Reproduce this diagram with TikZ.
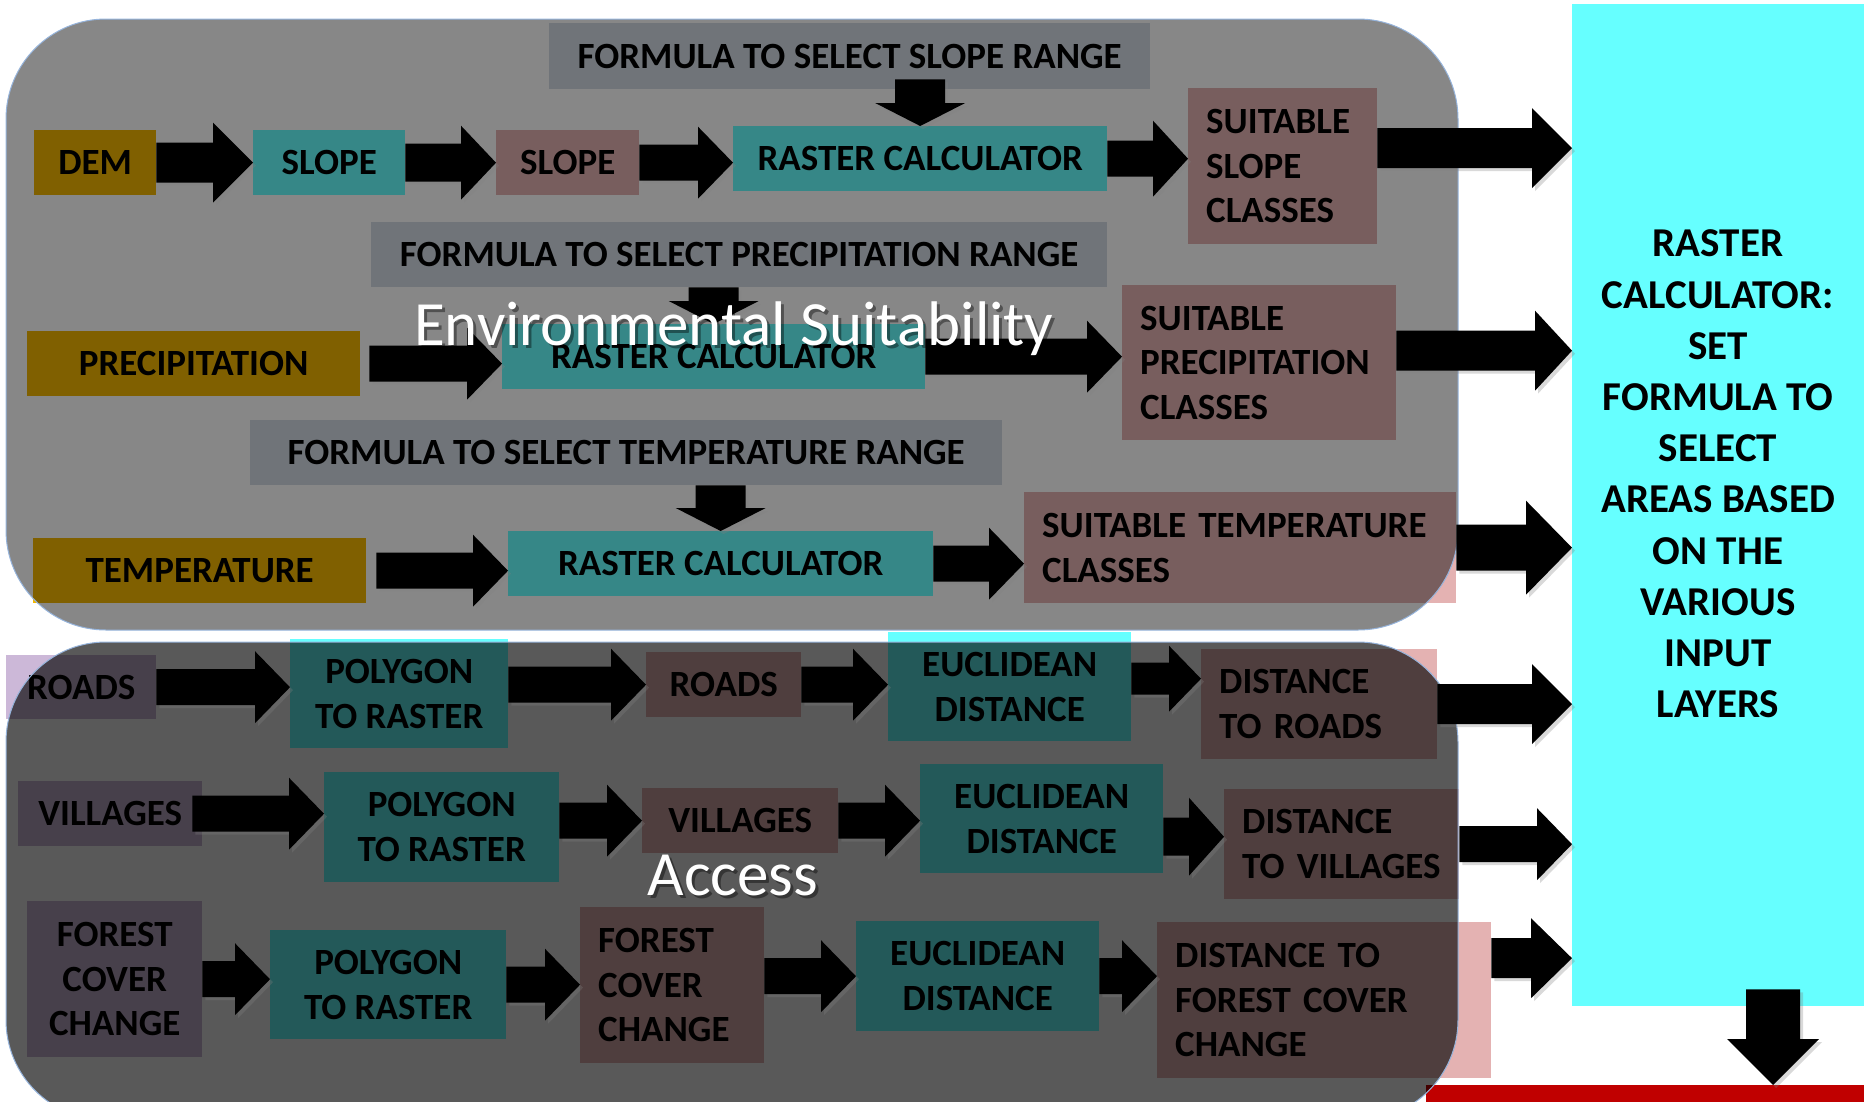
\documentclass[tikz,border=0pt]{standalone}
\usepackage{fontspec}
\setmainfont{Carlito}
\usetikzlibrary{calc,shadows}
\definecolor{LayerGold}{RGB}{242,182,0}
\definecolor{ToolCyan}{RGB}{102,255,255}
\definecolor{ResultRose}{RGB}{228,178,178}
\definecolor{FormulaSlate}{RGB}{212,220,230}
\definecolor{VectorLilac}{RGB}{204,184,216}
\definecolor{BarRed}{RGB}{192,0,0}
\definecolor{PanelEdge}{RGB}{150,180,220}
\newcommand{\boxfont}{\fontsize{37}{44.6}\selectfont\bfseries}
\newcommand{\bigfont}{\fontsize{41}{51.2}\selectfont\bfseries}
\newcommand{\titlefont}{\fontsize{63}{66}\selectfont}

\begin{document}
\begin{tikzpicture}[x=1pt,y=-1pt]
\tikzstyle{box} = [rectangle, anchor=north west, inner sep=0pt, align=center, font=\boxfont]
\tikzstyle{lbox} = [box, align=left, inner xsep=18pt]
\tikzstyle{layer} = [fill=LayerGold]
\tikzstyle{tool} = [fill=ToolCyan]
\tikzstyle{result} = [fill=ResultRose]
\tikzstyle{formula} = [fill=FormulaSlate]
\tikzstyle{vector} = [fill=VectorLilac]
\tikzstyle{panel} = [rounded corners=100pt, fill=black, draw=PanelEdge, line width=1pt]
\tikzstyle{title} = [anchor=base, text=white, font=\titlefont]
\tikzset{
  wh/.style 2 args={minimum width=#1pt, minimum height=#2pt},
  ashaft/.store in=\ashaft, ahead/.store in=\ahead, atip/.store in=\atip,
  ashaft=18, ahead=36, atip=35,
  shadowed/.style={drop shadow={shadow xshift=3pt, shadow yshift=-3pt, opacity=0.3}},
  rarrow/.style={fill=black, shadowed, to path={let \p1=(\tikztostart), \p2=(\tikztotarget) in
    (\x1,\y1+\ashaft pt) -- (\x2-\atip pt,\y1+\ashaft pt) -- (\x2-\atip pt,\y1+\ahead pt)
    -- (\x2,\y1) -- (\x2-\atip pt,\y1-\ahead pt) -- (\x2-\atip pt,\y1-\ashaft pt)
    -- (\x1,\y1-\ashaft pt) -- cycle}},
  darrow/.style={fill=black, shadowed, ashaft=25, ahead=45, atip=23,
    to path={let \p1=(\tikztostart), \p2=(\tikztotarget) in
    (\x1-\ashaft pt,\y1) -- (\x1-\ashaft pt,\y2+\atip pt) -- (\x1-\ahead pt,\y2+\atip pt)
    -- (\x1,\y2) -- (\x1+\ahead pt,\y2+\atip pt) -- (\x1+\ashaft pt,\y2+\atip pt)
    -- (\x1+\ashaft pt,\y1) -- cycle}},
  bigarrow/.style={rarrow, ashaft=20, ahead=40, atip=40}
}
\useasboundingbox (0,0) rectangle (1864,1101);
\clip (0,0) rectangle (1864,1101);

% raster calculator that takes all the layers
\node [box, tool, wh={292}{1002}] (cyan) at (1572,4) {};
\node [align=center, font=\bigfont] (cyantext) at (1718,474)
  {RASTER\\CALCULATOR:\\SET\\FORMULA TO\\SELECT\\AREAS BASED\\ON THE\\VARIOUS\\INPUT\\LAYERS};
\node [box, fill=BarRed, wh={438}{20}] (bar) at (1426,1085) {};

% environmental layers
\node [box, formula, wh={601}{66}] (formA) at (549,23) {FORMULA TO SELECT SLOPE RANGE};
\node [box, layer, wh={122}{65}] (dem) at (34,130) {DEM};
\node [box, tool, wh={152}{65}] (slopeA) at (253,130) {SLOPE};
\node [box, result, wh={143}{65}] (slopeB) at (496,130) {SLOPE};
\node [box, tool, wh={374}{65}] (calcA) at (733,126) {RASTER CALCULATOR};
\node [lbox, result, text width=153pt, minimum height=156pt] (suitslope) at (1188,88) {SUITABLE\\SLOPE\\CLASSES};
%
\node [box, formula, wh={736}{65}] (formB) at (371,222) {FORMULA TO SELECT PRECIPITATION RANGE};
\node [box, layer, wh={333}{65}] (precip) at (27,331) {PRECIPITATION};
\node [box, tool, wh={423}{65}] (calcB) at (502,324) {RASTER CALCULATOR};
\node [lbox, result, text width=238pt, minimum height=155pt] (suitprec) at (1122,285) {SUITABLE\\PRECIPITATION\\CLASSES};
%
\node [box, formula, wh={752}{65}] (formC) at (250,420) {FORMULA TO SELECT TEMPERATURE RANGE};
\node [box, layer, wh={333}{65}] (temp) at (33,538) {TEMPERATURE};
\node [box, tool, wh={425}{65}] (calcC) at (508,531) {RASTER CALCULATOR};
\node [lbox, result, text width=396pt, minimum height=111pt] (suittemp) at (1024,492) {SUITABLE~TEMPERATURE\\CLASSES};

% access layers
\node [box, vector, wh={150}{64}] (roadsA) at (6,655) {ROADS};
\node [box, tool, wh={218}{109}] (polyA) at (290,639) {POLYGON\\TO RASTER};
\node [box, result, wh={155}{65}] (roadsB) at (646,652) {ROADS};
\node [box, tool, wh={243}{109}] (eucA) at (888,632) {EUCLIDEAN\\DISTANCE};
\node [lbox, result, text width=200pt, minimum height=110pt] (distroads) at (1201,649) {DISTANCE\\TO~ROADS};
%
\node [box, vector, wh={184}{65}] (villA) at (18,781) {VILLAGES};
\node [box, tool, wh={235}{110}] (polyB) at (324,772) {POLYGON\\TO RASTER};
\node [box, result, wh={196}{65}] (villB) at (642,788) {VILLAGES};
\node [box, tool, wh={243}{109}] (eucB) at (920,764) {EUCLIDEAN\\DISTANCE};
\node [lbox, result, text width=199pt, minimum height=110pt] (distvill) at (1224,789) {DISTANCE\\TO~VILLAGES};
%
\node [box, vector, wh={175}{156}] (forestA) at (27,901) {FOREST\\COVER\\CHANGE};
\node [box, tool, wh={236}{109}] (polyC) at (270,930) {POLYGON\\TO RASTER};
\node [lbox, result, text width=148pt, minimum height=156pt] (forestB) at (580,907) {FOREST\\COVER\\CHANGE};
\node [box, tool, wh={243}{110}] (eucC) at (856,921) {EUCLIDEAN\\DISTANCE};
\node [lbox, result, text width=298pt, minimum height=156pt] (distforest) at (1157,922) {DISTANCE~TO\\FOREST~COVER\\CHANGE};

% grey panels over the two groups
\path [panel, fill opacity=0.47] (6,19) rectangle (1458,630);
\path [panel, fill opacity=0.65] (6,642) rectangle (1458,1120);

% arrows
\path [bigarrow] (dem.east) to (slopeA.west);
\path [rarrow, ashaft=19, ahead=37] (slopeA.east) to (slopeB.west);
\path [rarrow] (slopeB.east) to (calcA.west);
\path [rarrow, ahead=38] (calcA.east) to (suitslope.west);
\path [bigarrow] ([yshift=18pt]suitslope.east) to (cyan.west);
\path [darrow] ([yshift=10pt]formA.south -| calcA.north) to (calcA.north);
%
\path [rarrow] ([xshift=9pt]precip.east) to (calcB.west);
\path [rarrow] (calcB.east) to (suitprec.west);
\path [bigarrow, atip=37] ([yshift=12pt]suitprec.east) to (cyan.west);
\path [darrow] (formB.south -| calcB.north) to (calcB.north);
%
\path [rarrow] ([xshift=10pt]temp.east) to (calcC.west);
\path [rarrow] (calcC.east) to (suittemp.west);
\path [rarrow, ashaft=23, ahead=47, atip=46] (suittemp.east) to (cyan.west);
\path [darrow] (formC.south -| calcC.north) to (calcC.north);
%
\path [rarrow] (roadsA.east) to (polyA.west);
\path [rarrow] (polyA.east |- roadsB.west) to (roadsB.west);
\path [rarrow] (roadsB.east) to (eucA.west);
\path [rarrow, ashaft=16, ahead=33, atip=32] ([yshift=8pt]eucA.east) to (distroads.west);
\path [bigarrow] (distroads.east) to (cyan.west);
%
\path [rarrow] ([xshift=-10pt]villA.east) to (polyB.west);
\path [rarrow] (polyB.east |- villB.west) to (villB.west);
\path [rarrow] (villB.east) to (eucB.west);
\path [rarrow, ashaft=19, ahead=39] ([yshift=-18pt]eucB.east) to (distvill.west);
\path [rarrow] (distvill.east) to (cyan.west);
%
\path [rarrow] (forestA.east) to (polyC.west);
\path [rarrow] (polyC.east) to (forestB.west);
\path [rarrow] (forestB.east |- eucC.west) to (eucC.west);
\path [rarrow] (eucC.east) to (distforest.west);
\path [bigarrow, atip=41] ([yshift=42pt]distforest.east) to (cyan.west);
%
\path [darrow, ashaft=27, ahead=46, atip=46] ([xshift=55pt,yshift=17pt]cyan.south) to (bar.north);

% group titles
\node [title, text=black, opacity=0.4] (envshadow) at (737,348) {Environmental Suitability};
\node [title] (envtitle) at (734,345) {Environmental Suitability};
\node [title, text=black, opacity=0.4] (accshadow) at (736,898) {Access};
\node [title] (acctitle) at (733,895) {Access};

\end{tikzpicture}
\end{document}
